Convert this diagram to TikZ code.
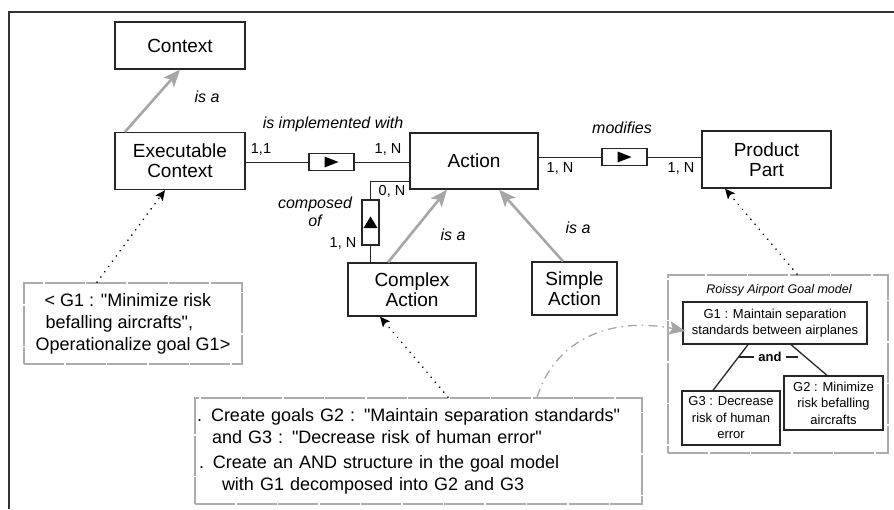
\documentclass[tikz,border=0pt]{standalone}
\usepackage{fontspec}
\setmainfont{Liberation Sans}[Ligatures=TeXOff]
\usetikzlibrary{arrows.meta}
\begin{document}
\begin{tikzpicture}[x=1pt,y=-1pt,
  box/.style={draw=black!85, line width=1.3pt, inner sep=0pt, align=center, font=\fontsize{19}{20}\selectfont},
  gbox/.style={draw=black!85, line width=1.3pt, inner sep=0pt, align=center, font=\fontsize{13}{16.5}\selectfont},
  note/.style={draw=gray!65, line width=1.7pt, dash pattern=on 40pt off 1.5pt, inner sep=0pt},
  lbl/.style={font=\fontsize{16}{18}\selectfont\itshape, inner sep=0pt},
  card/.style={font=\fontsize{14.5}{16}\selectfont, inner sep=0pt},
  assoc/.style={draw=black!85, line width=1.2pt, minimum width=45pt, minimum height=17pt, inner sep=0pt, fill=white},
  link/.style={line width=1pt, draw=black!85},
  isa/.style={draw=gray!70, line width=2.6pt, -{Stealth[length=17pt,width=14pt,inset=4pt]}},
  trace/.style={line width=1.9pt, dash pattern=on 0.01pt off 6.5pt, line cap=round, -{Stealth[length=10pt,width=9pt,inset=2pt]}},
]
\useasboundingbox (0,0) rectangle (894,509);
% frame
\draw[line width=1.6pt, draw=black!80] (9,509) -- (9,12) -- (894,12);

% main entities
\node[box, minimum width=130pt, minimum height=47pt] (ctx) at (180,45.5) {Context};
\node[box, minimum width=130pt, minimum height=57pt] (ec) at (180,161) {Executable\\Context};
\node[box, minimum width=128pt, minimum height=56pt] (act) at (474,161) {Action};
\node[box, minimum width=129pt, minimum height=57pt] (pp) at (766.5,159.5) {Product\\Part};
\node[box, minimum width=128pt, minimum height=53pt] (ca) at (412,289.5) {Complex\\Action};
\node[box, minimum width=85pt, minimum height=53pt] (sa) at (574.5,288.5) {Simple\\Action};

% is implemented with
\node[assoc] (b1) at (331.5,162) {};
\fill[shift={(b1)}] (-7,-5.5) -- (7,0) -- (-7,5.5) -- cycle;
\draw[link] (ec.east |- b1) -- (b1.west);
\draw[link] (b1.east) -- (act.west |- b1);
\node[lbl] (l1) at (333,124) {is implemented with};
\node[card] (c1) at (261,149) {1,1};
\node[card] (c2) at (388,149) {1, N};

% modifies
\node[assoc] (b2) at (624.5,157) {};
\fill[shift={(b2)}] (-7,-5.5) -- (7,0) -- (-7,5.5) -- cycle;
\draw[link] (act.east |- b2) -- (b2.west);
\draw[link] (b2.east) -- (pp.west |- b2);
\node[lbl] (l2) at (622,128) {modifies};
\node[card] (c3) at (560,168) {1, N};
\node[card] (c4) at (681,168) {1, N};

% composed of
\node[assoc, minimum width=17pt, minimum height=45pt] (b3) at (370.5,222.5) {};
\fill[shift={(b3)}] (-7,5.5) -- (0,-6) -- (7,5.5) -- cycle;
\coordinate (cbend) at (370.5,181);
\draw[link] (ca.north -| b3) -- (b3.south);
\draw[link] (b3.north) -- (cbend) -- (act.west |- cbend);
\node[lbl, align=center, font=\fontsize{16}{18}\selectfont\itshape] (l3) at (315,212) {composed\\of};
\node[card] (c5) at (392,191) {0, N};
\node[card] (c6) at (343,243) {1, N};

% is a
\draw[isa] ([xshift=-55pt]ec.north) -- (ctx.south);
\draw[isa] ([xshift=-24pt]ca.north) -- ([xshift=-27pt]act.south);
\draw[isa] ([xshift=-11.5pt]sa.north) -- ([xshift=25pt]act.south);
\node[lbl] (i1) at (207,97) {is a};
\node[lbl] (i2) at (453,235) {is a};
\node[lbl] (i3) at (578,228) {is a};

% notes
\node[note, minimum width=218pt, minimum height=81pt, align=left,
      font=\fontsize{18}{22}\selectfont] (n1) at (133,323.5)
  {\hspace*{9pt}< G1 : "Minimize risk\\\hspace*{10pt}befalling aircrafts",\\Operationalize goal G1>};
\node[note, text width=443pt, inner xsep=2pt, inner ysep=0pt, minimum height=106pt, align=left,
      font=\fontsize{18}{22}\selectfont] (n2) at (418.5,451)
  {. Create goals G2 : "Maintain separation standards"\\
   \hspace*{15pt}and G3 : "Decrease risk of human error"\\[3pt]
   \hspace*{2pt}. Create an AND structure in the goal model\\
   \hspace*{25pt}with G1 decomposed into G2 and G3};

% goal model
\node[note, minimum width=220pt, minimum height=178pt] (gm) at (778,364) {};
\node[font=\fontsize{12.5}{14}\selectfont\itshape, inner sep=0pt] (gmt) at (779,290) {Roissy Airport Goal model};
\node[gbox, minimum width=184pt, minimum height=42pt] (g1) at (775,323) {G1 : Maintain separation\\standards between airplanes};
\node[gbox, minimum width=98pt, minimum height=54pt] (g3) at (731,418) {G3 : Decrease\\risk of human\\error};
\node[gbox, minimum width=99pt, minimum height=54pt] (g2) at (833.5,403) {G2 : Minimize\\risk befalling\\aircrafts};
\draw[link, line width=1.3pt] ([xshift=-27pt]g1.south) -- ([xshift=-18pt]g3.north);
\draw[link, line width=1.3pt] ([xshift=16pt]g1.south) -- ([xshift=-6.5pt]g2.north);
\node[font=\fontsize{13}{14}\selectfont\bfseries, inner xsep=4pt, inner ysep=0pt] (andl) at (770,357) {and};
\coordinate (andL) at (739,357);
\coordinate (andR) at (798,357);
\draw[link, line width=1.3pt] (andL) -- (andl.west);
\draw[link, line width=1.3pt] (andl.east) -- (andR);

% traces
\draw[trace] ([xshift=-36pt]n1.north) -- ([xshift=-15pt]ec.south);
\draw[trace] ([xshift=29.5pt]n2.north) -- ([xshift=-32pt]ca.south);
\draw[trace] ([xshift=19pt]gm.north) -- ([xshift=-41.5pt]pp.south);
\draw[draw=gray!70, line width=1.3pt, dash pattern=on 9pt off 5pt on 1.5pt off 5pt,
      -{Stealth[length=16pt,width=13pt,inset=3pt]}]
  ([xshift=118.5pt]n2.north) .. controls (555,340) and (610,316) .. ([xshift=3pt,yshift=-8pt]g1.west);
\end{tikzpicture}
\end{document}
